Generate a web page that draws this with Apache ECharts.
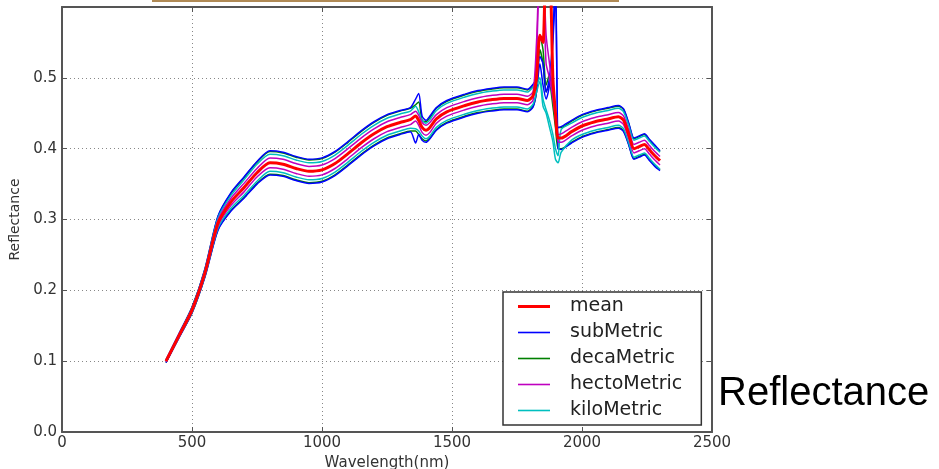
<!DOCTYPE html>
<html>
<head>
<meta charset="utf-8">
<script src="https://cdn.jsdelivr.net/npm/echarts@6/dist/echarts.min.js"></script>
<style>
  html, body { margin: 0; padding: 0; background: #fff; }
  #myChart { width: 939px; height: 469px; }
</style>
</head>
<body>
<div id="myChart"></div>
<script>
// 波长 (nm)
var wavelength = [400, 450, 500, 550, 600, 650, 700, 750, 800, 850, 900, 950, 1000, 1050, 1100, 1150, 1200, 1250, 1300, 1340,
  1360, 1372, 1385, 1400, 1415, 1440, 1480, 1550, 1600, 1650, 1700, 1750, 1790, 1812,
  1825, 1838, 1850, 1862, 1875, 1888, 1898, 1908,
  1920, 1960, 2000, 2050, 2100, 2140, 2160, 2180, 2200, 2220, 2240, 2260, 2280, 2300];

var meanVals = [.100, .136, .172, .225, .295, .325, .345, .366, .380, .378, .372, .368, .370, .379, .393, .408, .421, .431, .437, .441,
  .446, .440, .430, .426, .430, .442, .452, .461, .466, .469, .471, .471, .468, .475,
  .50, .56, .55, .65, .65, .50, .45, .415,
  .415, .424, .432, .438, .442, .445, .440, .420, .400, .403, .406, .398, .390, .383];

var subUpper = [.102, .139, .176, .231, .305, .338, .360, .382, .397, .395, .389, .385, .387, .396, .410, .425, .438, .448, .454, .458,
  .470, .478, .446, .440, .446, .458, .468, .477, .482, .485, .487, .487, .484, .491,
  .50, .53, .52, .48, .50, .56, .65, .43,
  .431, .440, .448, .454, .458, .461, .456, .436, .415, .418, .421, .413, .405, .397];
var subLower = [.098, .133, .168, .219, .285, .312, .330, .350, .363, .361, .355, .351, .353, .362, .376, .391, .404, .414, .420, .424,
  .408, .420, .412, .409, .414, .426, .436, .445, .450, .453, .455, .455, .452, .459,
  .48, .52, .49, .47, .49, .55, .62, .40,
  .399, .408, .416, .422, .426, .429, .424, .405, .385, .388, .391, .383, .375, .369];

var decaUpper = [.102, .138, .176, .230, .304, .337, .359, .381, .396, .394, .388, .384, .386, .395, .409, .424, .437, .447, .453, .457,
  .462, .466, .440, .438, .444, .457, .467, .476, .481, .484, .486, .486, .483, .490,
  .50, .56, .54, .49, .505, .47, .44, .43,
  .430, .439, .447, .453, .457, .460, .455, .435, .414, .417, .420, .412, .404, .396];
var decaLower = [.098, .134, .168, .220, .286, .313, .331, .351, .364, .362, .356, .352, .354, .363, .377, .392, .405, .415, .421, .425,
  .425, .420, .414, .411, .415, .427, .437, .446, .451, .454, .456, .456, .453, .460,
  .48, .54, .52, .48, .49, .46, .43, .40,
  .400, .409, .417, .423, .427, .430, .425, .406, .386, .389, .392, .384, .376, .370];

var hectoUpper = [.101, .137, .174, .227, .299, .330, .351, .372, .387, .385, .379, .375, .377, .386, .400, .415, .428, .438, .444, .448,
  .453, .447, .437, .433, .437, .448, .458, .467, .472, .475, .477, .477, .474, .481,
  .55, .65, .65, .56, .52, .48, .45, .42,
  .421, .430, .438, .444, .448, .451, .446, .426, .406, .409, .412, .404, .396, .389];
var hectoLower = [.099, .135, .170, .223, .291, .320, .339, .360, .373, .371, .365, .361, .363, .372, .386, .401, .414, .424, .430, .434,
  .439, .433, .423, .419, .423, .436, .446, .455, .460, .463, .465, .465, .462, .469,
  .53, .64, .63, .52, .50, .47, .44, .41,
  .409, .418, .426, .432, .436, .439, .434, .414, .394, .397, .400, .392, .384, .377];

var kiloUpper = [.101, .138, .175, .229, .302, .334, .356, .378, .392, .390, .384, .380, .382, .391, .405, .420, .433, .443, .449, .453,
  .460, .452, .440, .436, .441, .454, .464, .473, .478, .481, .483, .483, .480, .487,
  .49, .50, .47, .455, .44, .42, .40, .39,
  .427, .436, .444, .450, .454, .457, .452, .432, .412, .415, .418, .410, .402, .395];
var kiloLower = [.099, .134, .169, .221, .288, .316, .334, .354, .368, .366, .360, .356, .358, .367, .381, .396, .409, .419, .425, .429,
  .428, .425, .418, .414, .418, .430, .440, .449, .454, .457, .459, .459, .456, .463,
  .48, .495, .46, .45, .43, .41, .385, .38,
  .395, .412, .420, .426, .430, .433, .428, .408, .388, .391, .394, .386, .378, .371];

var legendNames = ['mean', 'subMetric', 'decaMetric', 'hectoMetric', 'kiloMetric'];
var yTicks = ['0.0', '0.1', '0.2', '0.3', '0.4', '0.5'];

function pairs(vals) {
  return wavelength.map(function (w, i) { return [w, vals[i]]; });
}

function mkLine(name, vals, color, width, z) {
  return {
    name: name,
    type: 'line',
    data: pairs(vals),
    symbol: 'none',
    smooth: 0.25,
    z: z,
    lineStyle: { color: color, width: width },
    itemStyle: { color: color }
  };
}

// 图例里的短线
var thinIcon = 'path://M0,0 L32,0 L32,1.6 L0,1.6 Z';
var thickIcon = 'path://M0,0 L32,0 L32,3 L0,3 Z';

var myChart = echarts.init(document.getElementById('myChart'));
var frame = { color: '#555', width: 2 };
var tick = { show: true, inside: true, length: 5, lineStyle: { color: '#555', width: 1 } };
var dots = { type: [1, 3], color: '#888', width: 1 };

myChart.setOption({
  animation: false,
  textStyle: { fontFamily: 'DejaVu Sans' },
  grid: { left: 62, right: 227, top: 7, bottom: 37, outerBoundsMode: 'none', containLabel: false },
  legend: {
    data: legendNames.map(function (n, i) {
      return { name: n, icon: i === 0 ? thickIcon : thinIcon };
    }),
    orient: 'vertical',
    left: 503,
    top: 292,
    backgroundColor: '#fff',
    borderColor: '#333',
    borderWidth: 1.5,
    borderRadius: 0,
    padding: [5, 19, 5, 15],
    itemGap: 7,
    itemWidth: 32,
    itemHeight: 10,
    symbolKeepAspect: true,
    textStyle: { fontSize: 19, color: '#222', padding: [0, 0, 0, 15] }
  },
  xAxis: [{
    type: 'value', min: 0, max: 2500, interval: 500,
    name: 'Wavelength(nm)', nameLocation: 'middle', nameGap: 21,
    nameTextStyle: { fontSize: 15, color: '#333' },
    axisLine: { show: true, onZero: false, lineStyle: frame },
    axisTick: tick,
    axisLabel: { fontSize: 15, color: '#333', margin: 4, formatter: function (v) { return String(v); } },
    splitLine: { show: true, lineStyle: dots }
  }, {
    type: 'value', min: 0, max: 2500, interval: 500, position: 'top',
    axisLine: { show: true, onZero: false, lineStyle: frame },
    axisTick: tick,
    axisLabel: { show: false },
    splitLine: { show: false }
  }],
  yAxis: [{
    type: 'value', min: 0, max: 0.6, interval: 0.1,
    name: 'Reflectance', nameLocation: 'middle', nameGap: 34,
    nameTextStyle: { fontSize: 14, color: '#333' },
    axisLine: { show: true, onZero: false, lineStyle: frame },
    axisTick: tick,
    axisLabel: {
      fontSize: 15, color: '#333', margin: 5,
      formatter: function (v) {
        var i = Math.round(v * 10);
        return i < yTicks.length ? yTicks[i] : '';
      }
    },
    splitLine: { show: true, lineStyle: dots }
  }, {
    type: 'value', min: 0, max: 0.6, interval: 0.1, position: 'right',
    axisLine: { show: true, onZero: false, lineStyle: frame },
    axisTick: tick,
    axisLabel: { show: false },
    splitLine: { show: false }
  }],
  graphic: [
    { type: 'rect', shape: { x: 152, y: 0, width: 467, height: 2 }, style: { fill: '#b08a55' } },
    { type: 'text', left: 718, top: 374, style: { text: 'Reflectance', font: '40px "Liberation Sans"', fill: '#000' } }
  ],
  series: [
    mkLine('decaMetric', decaUpper, '#008000', 1.5, 2),
    mkLine('decaMetric', decaLower, '#008000', 1.5, 2),
    mkLine('subMetric', subUpper, '#0000ff', 1.5, 3),
    mkLine('subMetric', subLower, '#0000ff', 1.5, 3),
    mkLine('kiloMetric', kiloUpper, '#00bfbf', 1.5, 4),
    mkLine('kiloMetric', kiloLower, '#00bfbf', 1.5, 4),
    mkLine('hectoMetric', hectoUpper, '#bf00bf', 1.5, 5),
    mkLine('hectoMetric', hectoLower, '#bf00bf', 1.5, 5),
    mkLine('mean', meanVals, '#ff0000', 3, 6)
  ]
});
</script>
</body>
</html>
